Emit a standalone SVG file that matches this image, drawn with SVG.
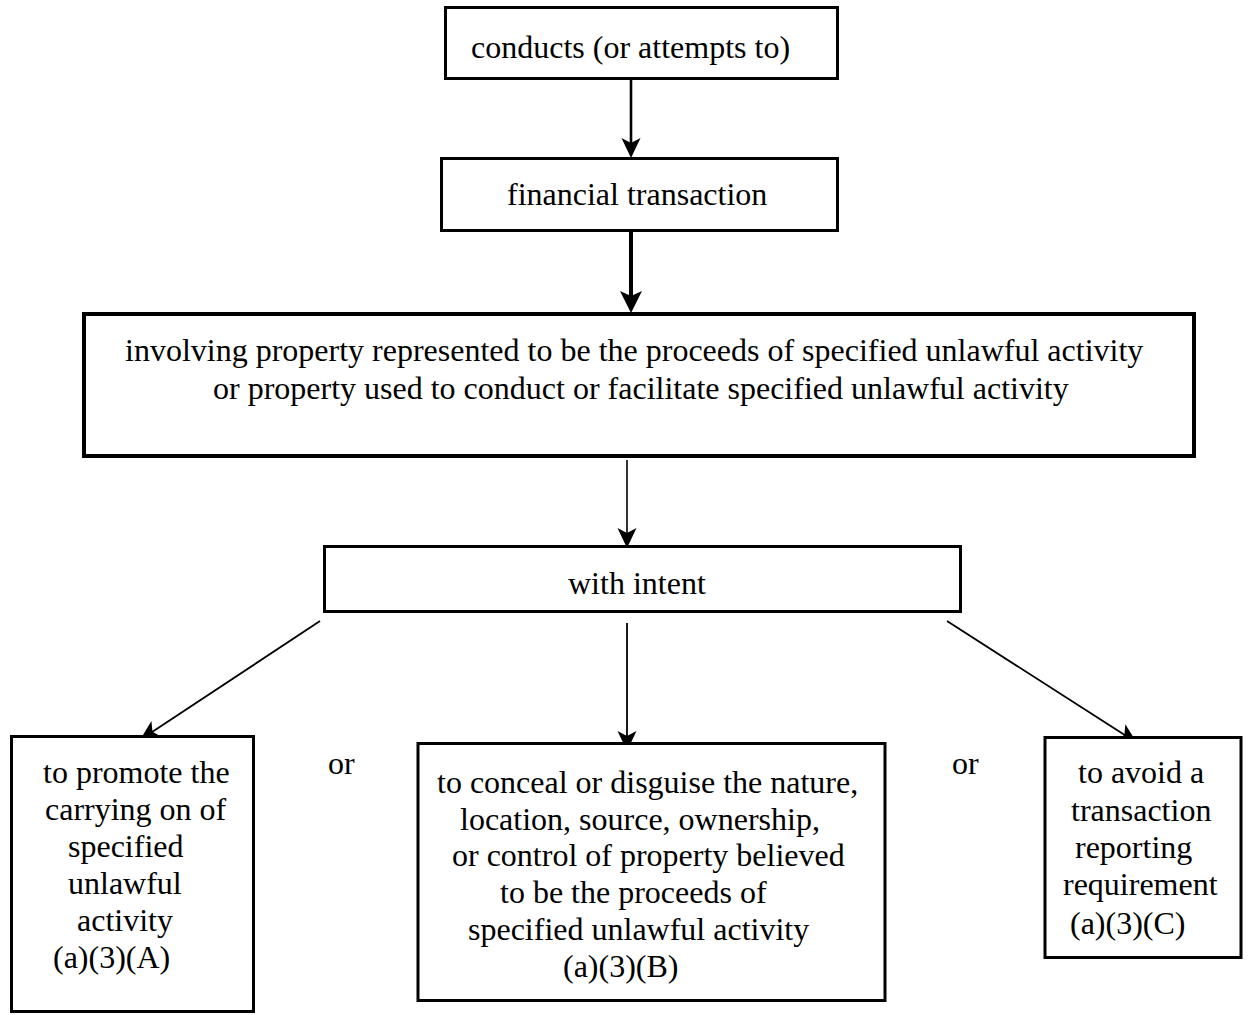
<svg xmlns="http://www.w3.org/2000/svg" width="1251" height="1015" viewBox="0 0 1251 1015">
<style>
  .box { fill: #ffffff; stroke: #000000; }
  .t { font-family: "Liberation Serif", "Times New Roman", serif; font-size: 32px; fill: #000000; }
  .c { stroke: #000000; fill: none; }
</style>
<defs>
  <marker id="ah" viewBox="-20 -10 20 20" refX="-10" refY="0" markerWidth="20" markerHeight="20" markerUnits="userSpaceOnUse" orient="auto">
    <path d="M0,0 L-20,-9.5 L-15,0 L-20,9.5 Z" fill="#000000"/>
  </marker>
  <marker id="ahL" viewBox="-22 -11 22 22" refX="-10" refY="0" markerWidth="22" markerHeight="22" markerUnits="userSpaceOnUse" orient="auto">
    <path d="M0,0 L-22,-11 L-17,0 L-22,11 Z" fill="#000000"/>
  </marker>
</defs>
<rect width="1251" height="1015" fill="#ffffff"/>

<g id="connectors">
  <line class="c" x1="631" y1="80" x2="631" y2="148" stroke-width="2.6" marker-end="url(#ah)"/>
  <line class="c" x1="631" y1="232" x2="631" y2="303" stroke-width="4" marker-end="url(#ahL)"/>
  <line class="c" x1="627" y1="460" x2="627" y2="538" stroke-width="1.6" marker-end="url(#ah)"/>
  <line class="c" x1="627" y1="623" x2="627" y2="741" stroke-width="1.8" marker-end="url(#ah)"/>
  <line class="c" x1="320" y1="621" x2="148.3" y2="734.5" stroke-width="1.8" marker-end="url(#ah)"/>
  <line class="c" x1="947" y1="621" x2="1128.6" y2="737.6" stroke-width="1.8" marker-end="url(#ah)"/>
</g>

<g id="n-conducts">
  <rect class="box" x="445.5" y="7.5" width="392" height="71" stroke-width="3"/>
  <text class="t" x="471" y="58">conducts (or attempts to)</text>
</g>

<g id="n-financial">
  <rect class="box" x="441.5" y="158.5" width="396" height="72" stroke-width="3"/>
  <text class="t" x="507" y="205">financial transaction</text>
</g>

<g id="n-involving">
  <rect class="box" x="84" y="314" width="1110" height="142" stroke-width="4"/>
  <text class="t" x="125" y="361">involving property represented to be the proceeds of specified unlawful activity</text>
  <text class="t" x="213" y="399">or property used to conduct or facilitate specified unlawful activity</text>
</g>

<g id="n-intent">
  <rect class="box" x="324.5" y="546.5" width="636" height="65" stroke-width="3"/>
  <text class="t" x="568" y="594">with intent</text>
</g>

<g id="n-promote">
  <rect class="box" x="11.5" y="736.5" width="242" height="275" stroke-width="3"/>
  <text class="t" x="43" y="783">to promote the</text>
  <text class="t" x="45" y="820">carrying on of</text>
  <text class="t" x="68" y="857">specified</text>
  <text class="t" x="68" y="894">unlawful</text>
  <text class="t" x="77" y="931">activity</text>
  <text class="t" x="53" y="968">(a)(3)(A)</text>
</g>

<g id="n-conceal">
  <rect class="box" x="418" y="743.5" width="467" height="257" stroke-width="3"/>
  <text class="t" x="437" y="793">to conceal or disguise the nature,</text>
  <text class="t" x="460" y="830">location, source, ownership,</text>
  <text class="t" x="452" y="866">or control of property believed</text>
  <text class="t" x="500" y="903">to be the proceeds of</text>
  <text class="t" x="468" y="940">specified unlawful activity</text>
  <text class="t" x="563" y="977">(a)(3)(B)</text>
</g>

<g id="n-avoid">
  <rect class="box" x="1045" y="737.5" width="196" height="220" stroke-width="3"/>
  <text class="t" x="1078" y="783">to avoid a</text>
  <text class="t" x="1071" y="821">transaction</text>
  <text class="t" x="1075" y="858">reporting</text>
  <text class="t" x="1063" y="895">requirement</text>
  <text class="t" x="1070" y="934">(a)(3)(C)</text>
</g>

<g id="labels">
  <text class="t" x="328" y="774">or</text>
  <text class="t" x="952" y="774">or</text>
</g>
</svg>
